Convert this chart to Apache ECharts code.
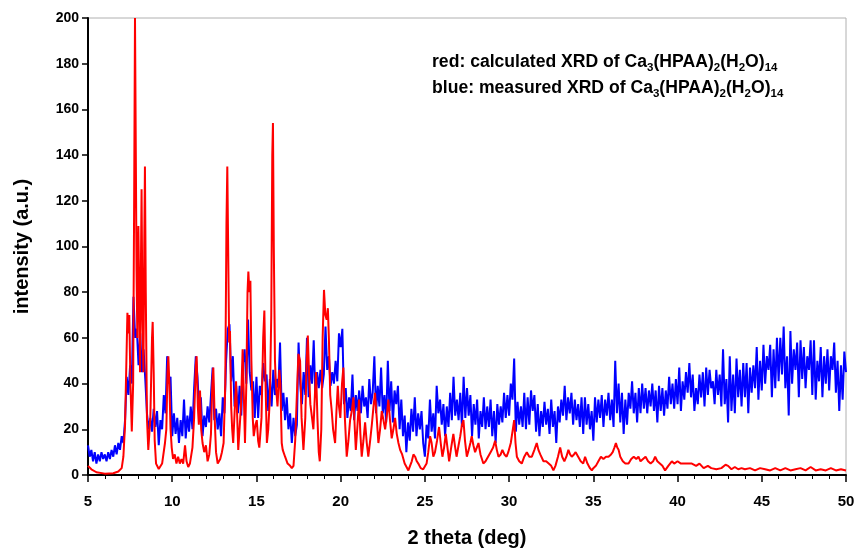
<!DOCTYPE html>
<html><head><meta charset="utf-8">
<script src="https://cdn.jsdelivr.net/npm/echarts@6/dist/echarts.min.js"></script>
<style>html,body{margin:0;padding:0;background:#fff}#c{width:858px;height:549px}</style>
</head><body><div id="c"></div>
<script>
// x axis ticks
const xTicks = [5, 10, 15, 20, 25, 30, 35, 40, 45, 50];
const yTicks = [0, 20, 40, 60, 80, 100, 120, 140, 160, 180, 200];

// measured XRD (blue): 2theta start & step, intensities
const blueStart = 5.0;
const blueStep = 0.1;
const blueY = [
 13, 8, 11, 6, 10, 5, 9, 6, 10, 7,
 9, 6, 10, 7, 11, 8, 13, 9, 14, 11,
 17, 14, 24, 43, 35, 48, 40, 78, 60, 64,
 48, 62, 45, 55, 42, 27, 20, 25, 19, 29,
 21, 28, 13, 24, 20, 35, 27, 52, 40, 43,
 17, 27, 18, 25, 14, 24, 17, 33, 16, 26,
 19, 30, 20, 38, 52, 43, 28, 34, 17, 26,
 21, 30, 23, 35, 47, 24, 29, 20, 27, 17,
 34, 27, 50, 64, 66, 41, 52, 30, 39, 27,
 39, 26, 49, 55, 40, 68, 45, 37, 41, 25,
 43, 25, 39, 35, 49, 41, 44, 28, 42, 30,
 46, 35, 42, 38, 58, 28, 36, 24, 34, 20,
 27, 14, 25, 17, 22, 58, 40, 31, 45, 35,
 60, 34, 48, 40, 59, 34, 45, 38, 46, 38,
 44, 65, 46, 52, 39, 45, 40, 50, 41, 62,
 56, 64, 31, 38, 25, 34, 28, 44, 24, 35,
 28, 37, 27, 39, 30, 34, 25, 42, 31, 36,
 52, 27, 39, 30, 47, 27, 35, 23, 50, 28,
 41, 23, 37, 31, 39, 20, 33, 17, 26, 10,
 23, 15, 29, 19, 34, 17, 27, 20, 28, 14,
 8, 22, 16, 33, 19, 27, 16, 39, 27, 33,
 22, 31, 17, 30, 21, 36, 24, 43, 26, 33,
 24, 36, 21, 43, 25, 38, 26, 35, 17, 31,
 22, 33, 16, 28, 21, 34, 20, 30, 21, 33,
 17, 28, 14, 31, 22, 30, 23, 36, 25, 35,
 26, 40, 33, 51, 19, 32, 22, 30, 21, 36,
 20, 34, 22, 37, 28, 35, 19, 31, 17, 28,
 21, 32, 22, 29, 18, 33, 21, 28, 14, 30,
 23, 33, 26, 39, 24, 34, 27, 36, 22, 33,
 24, 31, 21, 34, 18, 34, 22, 31, 20, 28,
 15, 34, 23, 33, 25, 35, 21, 33, 26, 36,
 24, 33, 21, 50, 27, 40, 23, 36, 18, 33,
 22, 36, 29, 41, 27, 36, 23, 38, 27, 40,
 29, 38, 27, 37, 30, 40, 28, 37, 23, 39,
 28, 38, 26, 37, 29, 43, 31, 40, 29, 42,
 31, 47, 28, 41, 33, 45, 36, 49, 34, 44,
 28, 38, 31, 44, 34, 45, 30, 47, 35, 46,
 38, 41, 31, 46, 35, 44, 30, 55, 31, 42,
 23, 52, 28, 44, 27, 51, 34, 46, 30, 49,
 34, 49, 27, 47, 36, 48, 38, 56, 33, 50,
 37, 57, 40, 52, 46, 57, 34, 55, 38, 60,
 41, 60, 44, 65, 38, 52, 26, 63, 40, 55,
 46, 58, 34, 59, 42, 56, 38, 52, 46, 59,
 35, 59, 33, 50, 41, 56, 34, 52, 40, 55,
 37, 52, 46, 58, 36, 50, 28, 48, 33, 54,
 45
];

// calculated XRD (red): 2theta
const redX = [
 5.0,5.2,5.5,6.0,6.5,6.8,7.0,7.1,7.2,7.28,7.34,7.4,7.45,7.52,7.6,7.68,7.74,7.79,7.84,7.88,
 7.93,7.99,8.04,8.09,8.14,8.18,8.23,8.29,8.34,8.38,8.43,8.5,8.58,8.7,8.8,8.84,8.9,8.96,9.04,9.2,
 9.4,9.57,9.65,9.72,9.77,9.83,9.9,9.97,10.05,10.15,10.25,10.35,10.45,10.55,10.65,10.76,10.85,10.95,11.05,11.2,
 11.3,11.4,11.45,11.52,11.58,11.65,11.72,11.8,11.9,12.0,12.1,12.2,12.3,12.38,12.44,12.52,12.6,12.7,12.85,12.95,
 13.05,13.15,13.22,13.27,13.32,13.38,13.43,13.5,13.56,13.62,13.72,13.79,13.86,13.92,13.98,14.08,14.18,14.25,14.32,14.4,
 14.47,14.52,14.58,14.64,14.7,14.78,14.84,14.94,15.02,15.1,15.17,15.3,15.4,15.47,15.54,15.62,15.7,15.8,15.88,15.94,
 15.98,16.03,16.1,16.16,16.25,16.36,16.42,16.5,16.56,16.7,16.85,17.0,17.1,17.2,17.3,17.4,17.49,17.59,17.68,17.79,
 17.9,17.98,18.05,18.12,18.2,18.3,18.38,18.47,18.54,18.62,18.7,18.76,18.85,18.93,19.01,19.09,19.17,19.24,19.3,19.38,
 19.47,19.55,19.67,19.75,19.83,19.9,19.98,20.08,20.16,20.25,20.36,20.46,20.56,20.66,20.76,20.84,20.9,21.0,21.09,21.17,
 21.25,21.35,21.45,21.55,21.64,21.75,21.85,21.95,22.04,22.14,22.24,22.34,22.44,22.54,22.64,22.74,22.83,22.93,23.03,23.13,
 23.23,23.33,23.43,23.53,23.65,23.8,24.02,24.12,24.22,24.32,24.42,24.52,24.61,24.75,24.9,25.01,25.1,25.2,25.31,25.4,
 25.5,25.6,25.72,25.84,25.94,26.04,26.14,26.24,26.34,26.44,26.56,26.69,26.78,26.88,27.0,27.1,27.2,27.29,27.38,27.49,
 27.6,27.7,27.78,27.88,27.98,28.08,28.18,28.3,28.47,28.6,28.75,28.9,29.05,29.17,29.27,29.37,29.5,29.6,29.72,29.85,
 29.95,30.1,30.22,30.3,30.38,30.46,30.6,30.75,30.9,31.05,31.2,31.35,31.5,31.64,31.74,31.85,32.04,32.2,32.35,32.5,
 32.63,32.75,32.9,33.03,33.15,33.28,33.4,33.52,33.62,33.72,33.85,33.95,34.1,34.25,34.4,34.51,34.65,34.8,34.91,35.0,
 35.15,35.3,35.45,35.6,35.75,35.9,36.05,36.15,36.25,36.34,36.42,36.5,36.6,36.75,36.9,37.09,37.25,37.4,37.55,37.68,
 37.8,37.95,38.1,38.25,38.4,38.55,38.67,38.8,38.95,39.1,39.26,39.45,39.66,39.8,40.0,40.2,40.4,40.6,40.85,41.1,
 41.3,41.55,41.8,42.0,42.3,42.6,42.85,43.0,43.2,43.4,43.6,43.8,44.0,44.3,44.6,44.9,45.2,45.5,45.8,46.1,
 46.4,46.7,47.0,47.3,47.6,47.9,48.2,48.5,48.8,49.1,49.4,49.7,50.0
];
// calculated XRD (red): intensities
const redY = [
 4,2.5,1.2,0.6,0.8,1.5,3,8,22,50,71,62,70,40,19,40,120,200,200,90,
 60,109,80,45,90,125,70,45,100,135,80,25,11,25,60,67,45,15,5,2.6,
 5,14,20,45,52,40,20,12,7,9,5,8,5,7,5,13,6,3.5,5,12,
 25,48,52,30,22,37,20,14,10,13,6,9,18,40,47,25,10,5,7,10,
 14,40,110,135,100,58,63,30,20,14,30,41,25,11,11,30,55,35,14,40,
 80,89,80,85,50,25,17,22,24,15,12,25,60,72,40,14,20,34,70,140,
 154,100,50,39,30,46,40,14,11,8,5,4,3,4,15,35,53,50,25,11,
 25,50,61,45,31,25,20,35,45,25,10,6,20,60,81,70,68,73,60,35,
 28,20,14,28,39,30,25,40,47,25,8,15,24,28,34,20,11,22,33,18,
 8,15,23,14,8,15,22,30,36,25,14,20,28,24,20,26,33,24,16,20,
 25,18,14,11,9,5,2,4,6,9,8,6,5,3,2.5,2,5,10,17,14,
 8,10,15,21,14,8,12,18,12,6,12,18,13,8,13,17,22,24,15,8,
 11,14,17,13,10,12,14,9,5,6,8,10,12,15,11,8,9,11,9,8,
 10,14,20,24,14,8,6,5,8,10,8,8,11,14,11,9,6,6,5,4,
 2,4,8,12,8,6,8,11,9,8,9,10,8,6,5,8,5,3,2,3,
 4,6,8,7,8,8,9,10,12,14,12,11,8,6,5,5,7,8,7,8,
 6,7,8,6,5,6,8,6,5,4,2,4,6,5,6,5,5,5,5,4,
 5,3,4,3,2.5,3,4.5,4,2.5,3.5,2.5,3,2.5,3,2,3,2.5,2,3,2,
 3,2,2.5,3,2,3.5,2,2.5,2,3,2,2.5,2
];

const redLabel = 'red: calculated XRD of ';
const blueLabel = 'blue: measured XRD of ';

const blueData = blueY.map((v, i) => [+(blueStart + i * blueStep).toFixed(2), v]);
const redData = redX.map((x, i) => [x, redY[i]]);

const FONT = '"Liberation Sans", Arial, sans-serif';
function formulaRich(color) {
  return {
    n: { fontFamily: FONT, fontWeight: 'bold', fontSize: 17.6, color: color, lineHeight: 24, verticalAlign: 'middle' },
    s: { fontFamily: FONT, fontWeight: 'bold', fontSize: 11.5, color: color, lineHeight: 13, verticalAlign: 'bottom' }
  };
}
const formula = '{n|Ca}{s|3}{n|(HPAA)}{s|2}{n|(H}{s|2}{n|O)}{s|14}';

const chart = echarts.init(document.getElementById('c'), null, { renderer: 'canvas' });
chart.setOption({
  animation: false,
  backgroundColor: '#ffffff',
  grid: { left: 88, right: 12, top: 18, bottom: 74, containLabel: false, outerBoundsMode: 'none', show: true, borderColor: '#b0b0b0', borderWidth: 1, backgroundColor: 'transparent' },
  xAxis: {
    type: 'value', min: xTicks[0], max: xTicks[xTicks.length - 1], interval: 5,
    name: '2 theta (deg)', nameLocation: 'middle', nameGap: 53,
    nameTextStyle: { fontFamily: FONT, fontWeight: 'bold', fontSize: 20, color: '#000' },
    axisLine: { lineStyle: { color: '#000', width: 2 } },
    axisTick: { inside: false, length: 7, lineStyle: { color: '#000', width: 1.5 } },
    minorTick: { show: true, splitNumber: 5, length: 4, lineStyle: { color: '#000', width: 1 } },
    axisLabel: { margin: 19, fontFamily: FONT, fontWeight: 'bold', fontSize: 15, color: '#000' },
    splitLine: { show: false }
  },
  yAxis: {
    type: 'value', min: yTicks[0], max: yTicks[yTicks.length - 1], interval: 20,
    name: 'intensity (a.u.)', nameLocation: 'middle', nameGap: 56, nameRotate: 90,
    nameTextStyle: { fontFamily: FONT, fontWeight: 'bold', fontSize: 20, color: '#000' },
    axisLine: { show: true, lineStyle: { color: '#000', width: 2 } },
    axisTick: { show: true, inside: false, length: 6, lineStyle: { color: '#000', width: 1.5 } },
    axisLabel: { margin: 9, fontFamily: FONT, fontWeight: 'bold', fontSize: 14, color: '#000' },
    splitLine: { show: false }
  },
  series: [
    { type: 'line', data: blueData, showSymbol: false, clip: true, lineStyle: { color: '#0000ff', width: 2 }, z: 2 },
    { type: 'line', data: redData, showSymbol: false, clip: true, lineStyle: { color: '#ff0000', width: 2 }, z: 3 }
  ],
  graphic: [
    { type: 'text', left: 432, top: 53, style: { text: '{n|' + redLabel + '}' + formula, rich: formulaRich('#ff0000') } },
    { type: 'text', left: 432, top: 79, style: { text: '{n|' + blueLabel + '}' + formula, rich: formulaRich('#0000ff') } }
  ]
});
</script>
</body></html>
